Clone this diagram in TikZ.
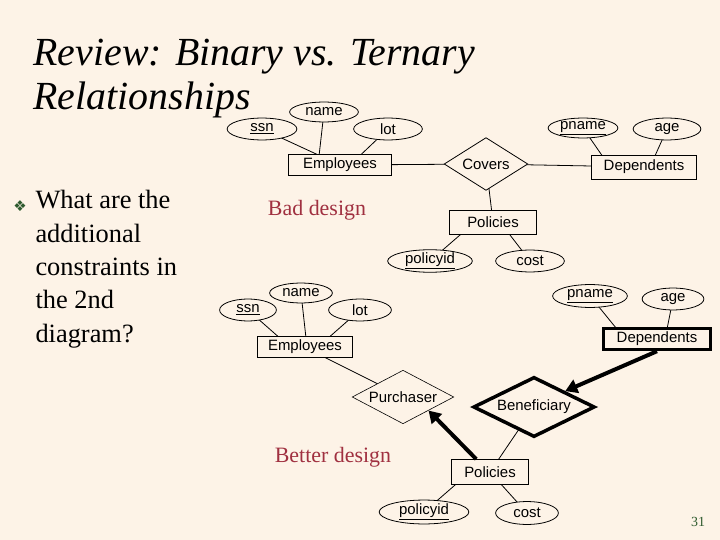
\documentclass[tikz,border=0pt]{standalone}
\usepackage{fontspec}
\setmainfont{Liberation Serif}
\setsansfont{Liberation Sans}
\newfontfamily\djv{DejaVu Sans}
\usetikzlibrary{shapes.geometric,arrows.meta}
\definecolor{bg}{HTML}{FDF3E7}
\definecolor{badred}{HTML}{A03040}
\definecolor{numgreen}{HTML}{2E5A2E}
\tikzset{
 attr/.style={ellipse,draw,thick,fill=bg,inner sep=0pt,font=\sffamily\fontsize{15}{15}\selectfont},
 ent/.style={rectangle,draw,thick,fill=bg,inner sep=0pt,font=\sffamily\fontsize{15}{15}\selectfont},
 rel/.style={diamond,draw,thick,fill=bg,inner sep=0pt,aspect=1.6,font=\sffamily\fontsize{15}{15}\selectfont},
 ln/.style={thick},
 bold/.style={line width=4pt},
}
\begin{document}
\begin{tikzpicture}[x=1bp,y=-1bp]
\fill[bg] (0,0) rectangle (720,540);
\useasboundingbox (0,0) rectangle (720,540);
\node[anchor=base west,font=\fontsize{40}{40}\selectfont\itshape] (t1) at (30,66) {Review: Binary vs. Ternary};
\node[anchor=base west,font=\fontsize{40}{40}\selectfont\itshape] (t2) at (30,110) {Relationships};
\node[font=\djv\fontsize{15}{15}\selectfont,text=numgreen] (bul) at (20,206) {❖};
\node[anchor=north west,align=left,font=\fontsize{26.5}{33.5}\selectfont] (q) at (32,187) {What are the\\additional\\constraints in\\the 2nd\\diagram?};
% top diagram
\draw[ln] (262,129)--(340,165) (324,112)--(318,165) (388,129)--(350,165);
\draw[ln] (583,128)--(610,167) (667,129)--(650,167);
\draw[ln] (340,165)--(486,164)--(644,167);
\draw[ln] (486,164)--(493,222);
\draw[ln] (430,261)--(475,222) (530,261)--(500,222);
\node[attr,minimum width=70,minimum height=22] (s1) at (262,129) {\underline{ssn}};
\node[attr,minimum width=69,minimum height=20] (n1) at (324,112) {name};
\node[attr,minimum width=69,minimum height=22] (l1) at (388,129) {lot};
\node[ent,minimum width=103,minimum height=21] (e1) at (340,165) {Employees};
\node[rel,minimum width=84,minimum height=53] (c1) at (486,164) {Covers};
\node[ent,minimum width=105,minimum height=24] (d1) at (644,167) {Dependents};
\node[attr,minimum width=70,minimum height=20] (p1) at (583,128) {\underline{pname}};
\node[attr,minimum width=68,minimum height=22] (a1) at (667,129) {age};
\node[ent,minimum width=88,minimum height=24] (po1) at (493,222) {Policies};
\node[attr,minimum width=85,minimum height=22] (pi1) at (430,261) {\underline{policyid}};
\node[attr,minimum width=69,minimum height=22] (co1) at (530,261) {cost};
\node[text=badred,font=\fontsize{22}{22}\selectfont] (bd) at (317,210) {Bad design};
% bottom diagram
\draw[ln] (248,310)--(290,347) (301,293)--(307,347) (360,310)--(318,347);
\draw[ln] (590,296)--(625,339) (673,299)--(665,339);
\draw[ln] (310,350)--(380,385);
\draw[ln] (534,407)--(490,472);
\draw[ln] (424,512)--(470,472) (527,513)--(490,472);
\node[attr,minimum width=63,minimum height=20] (n2) at (301,293) {name};
\node[attr,minimum width=57,minimum height=22] (s2) at (248,310) {\underline{ssn}};
\node[attr,minimum width=63,minimum height=22] (l2) at (360,310) {lot};
\node[ent,minimum width=95,minimum height=21] (e2) at (305,347) {Employees};
\node[rel,semithick,minimum width=102,minimum height=47] (pu) at (403,397) {Purchaser};
\node[rel,line width=3.5pt,minimum width=122,minimum height=46] (be) at (534,407) {Beneficiary};
\node[attr,minimum width=75,minimum height=23] (p2) at (590,296) {\underline{pname}};
\node[attr,minimum width=62,minimum height=22] (a2) at (673,299) {age};
\node[ent,line width=3.5pt,minimum width=107,minimum height=21] (d2) at (657,339) {Dependents};
\node[ent,minimum width=77,minimum height=25] (po2) at (490,472) {Policies};
\node[attr,minimum width=90,minimum height=24] (pi2) at (424,512) {\underline{policyid}};
\node[attr,minimum width=63,minimum height=23] (co2) at (527,513) {cost};
\draw[bold,-{Triangle[length=12bp,width=14bp]}] (d2.south) -- (be.north east);
\draw[bold,-{Triangle[length=12bp,width=14bp]}] (po2.north west)++(25,0) -- (pu.south east);
\node[text=badred,font=\fontsize{22}{22}\selectfont] (gd) at (333,457) {Better design};
\node[text=numgreen,font=\fontsize{14}{14}\selectfont] (num) at (698,522) {31};
\end{tikzpicture}
\end{document}
